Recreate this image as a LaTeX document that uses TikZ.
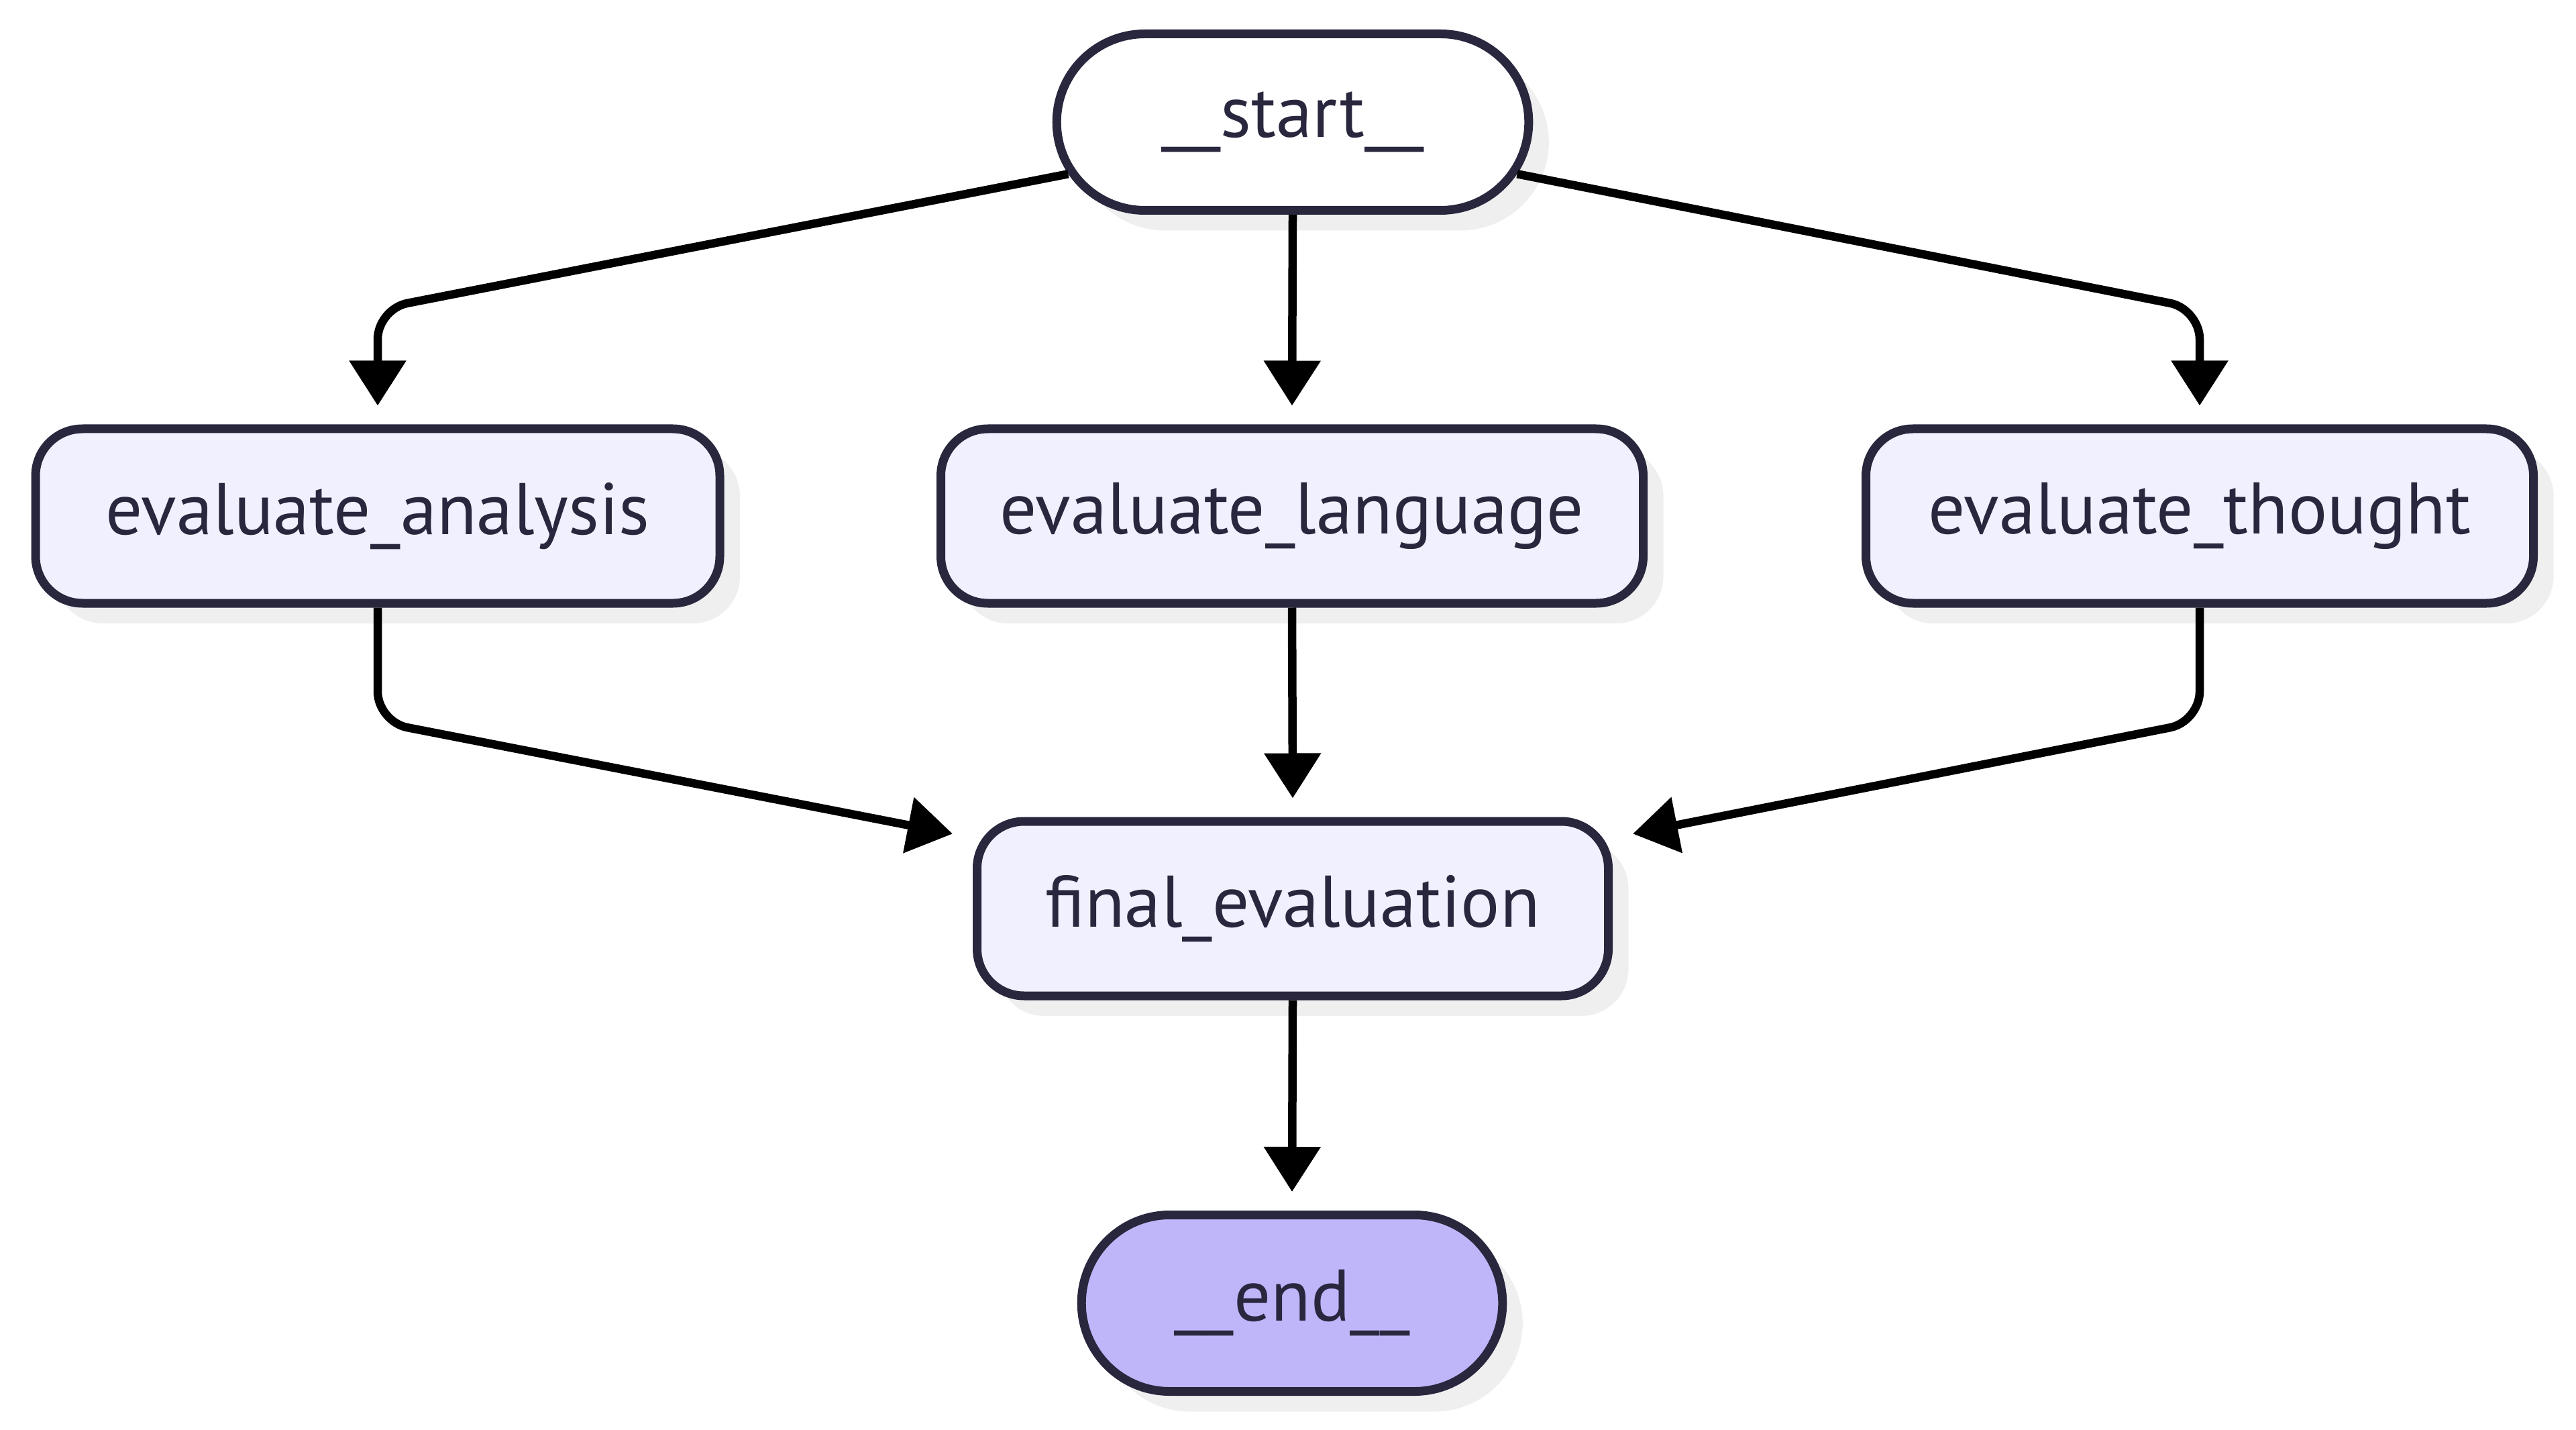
\documentclass[tikz,border=0pt]{standalone}
\usepackage{fontspec}
\setmainfont{PT Sans}
\usetikzlibrary{arrows.meta, shapes.misc, shadows}
\definecolor{nodeline}{HTML}{28273E}
\definecolor{nodefill}{HTML}{F1F0FE}
\definecolor{endfill}{HTML}{BFB6FA}
\definecolor{shadowgray}{HTML}{EFEFEF}
\tikzset{
    base/.style={draw=nodeline, line width=0.13cm, text=nodeline,
        font=\fontsize{31}{37}\selectfont,
        general shadow={fill=shadowgray, shadow xshift=0.3cm, shadow yshift=-0.3cm}},
    task/.style={base, fill=nodefill, rectangle, rounded corners=0.7cm, minimum height=2.6cm},
    terminal/.style={base, rounded rectangle, minimum height=2.63cm},
    flow/.style={line width=0.125cm, rounded corners=0.45cm,
        -{Triangle[length=0.67cm, width=0.82cm]}}
}
\begin{document}
\begin{tikzpicture}
            \useasboundingbox (0,0) rectangle (38.40,-21.31);
            \node[terminal, fill=white, minimum width=7.27cm] (start) at (19.27,-1.82) {\_\_start\_\_};
            \node[task, minimum width=10.2cm] (ana) at (5.63,-7.69) {evaluate\_analysis};
            \node[task, minimum width=10.47cm] (lang) at (19.26,-7.69) {evaluate\_language};
            \node[task, minimum width=9.95cm] (thought) at (32.79,-7.69) {evaluate\_thought};
            \node[task, minimum width=9.41cm] (final) at (19.27,-13.54) {final\_evaluation};
            \node[terminal, fill=endfill, minimum width=6.51cm] (end) at (19.26,-19.42) {\_\_end\_\_};
            % fan out
            \draw[flow] (start.193) -- ([yshift=1.72cm]ana.north) -- ([yshift=0.28cm]ana.north);
            \draw[flow] (start.south) -- ([yshift=0.28cm]lang.north);
            \draw[flow] (start.-13) -- ([yshift=1.72cm]thought.north) -- ([yshift=0.28cm]thought.north);
            % fan in
            \draw[flow] (ana.south) -- ([yshift=-1.7cm]ana.south) -- ([xshift=-0.3cm,yshift=-0.25cm]final.north west);
            \draw[flow] (lang.south) -- ([yshift=0.28cm]final.north);
            \draw[flow] (thought.south) -- ([yshift=-1.7cm]thought.south) -- ([xshift=0.3cm,yshift=-0.25cm]final.north east);
            \draw[flow] (final.south) -- ([yshift=0.28cm]end.north);
        \end{tikzpicture}
\end{document}
